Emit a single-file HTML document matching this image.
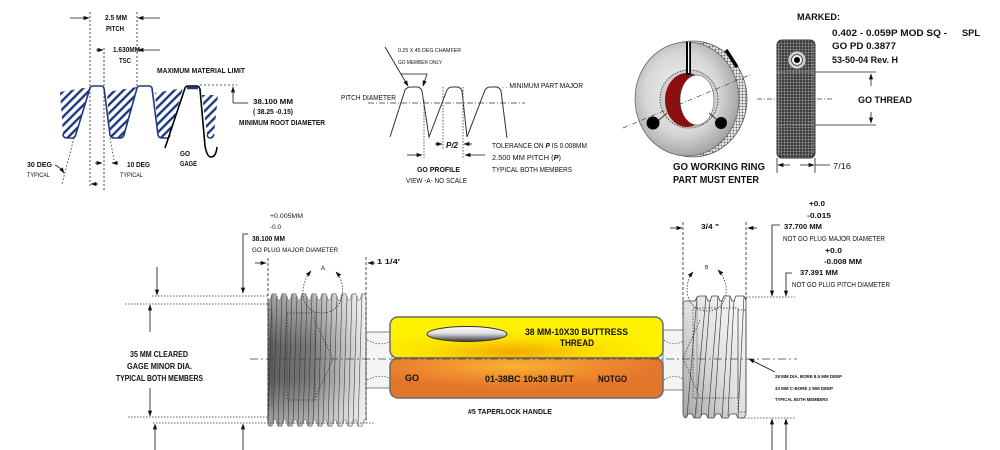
<!DOCTYPE html>
<html><head><meta charset="utf-8"><style>
html,body{margin:0;padding:0;background:#fff;}
svg{display:block;}
text{font-family:"Liberation Sans",Arial,sans-serif;fill:#111;}
.b{font-weight:bold;}
</style></head><body>
<svg width="1000" height="450" viewBox="0 0 1000 450" xmlns="http://www.w3.org/2000/svg">
<defs>
<marker id="a" viewBox="0 0 10 10" refX="9" refY="5" markerWidth="6" markerHeight="6" orient="auto-start-reverse" markerUnits="userSpaceOnUse"><path d="M0,1.5L10,5L0,8.5z" fill="#111"/></marker>
<pattern id="hatch" width="6" height="6" patternUnits="userSpaceOnUse" patternTransform="rotate(-45)"><rect width="6" height="6" fill="#fff"/><rect width="6" height="2.4" fill="#1e3a80"/></pattern>
<pattern id="kn" width="3" height="3" patternUnits="userSpaceOnUse"><rect width="3" height="3" fill="#3a3a3a"/><circle cx="1.5" cy="1.5" r="0.95" fill="#9c9c9c"/></pattern>
<pattern id="kn2" width="3" height="3" patternUnits="userSpaceOnUse"><rect width="3" height="3" fill="#f0f0f0"/><circle cx="1.5" cy="1.5" r="1" fill="#666"/></pattern>
<radialGradient id="face" cx="0.45" cy="0.45" r="0.6"><stop offset="0" stop-color="#f2f2f2"/><stop offset="0.6" stop-color="#d6d6d6"/><stop offset="1" stop-color="#9a9a9a"/></radialGradient>
<linearGradient id="lp" x1="0" y1="0" x2="1" y2="0"><stop offset="0" stop-color="#5e5e5e"/><stop offset="0.45" stop-color="#7a7a7a"/><stop offset="1" stop-color="#eeeeee"/></linearGradient>
<linearGradient id="lpv" x1="0" y1="0" x2="0" y2="1"><stop offset="0" stop-color="#fff" stop-opacity="0.45"/><stop offset="0.4" stop-color="#fff" stop-opacity="0"/><stop offset="0.65" stop-color="#fff" stop-opacity="0"/><stop offset="1" stop-color="#fff" stop-opacity="0.45"/></linearGradient>
<linearGradient id="rp" x1="1" y1="0" x2="0" y2="1"><stop offset="0" stop-color="#fbfbfb"/><stop offset="0.5" stop-color="#e0e0e0"/><stop offset="1" stop-color="#a4a4a4"/></linearGradient>
<radialGradient id="yel" cx="0.45" cy="0.85" r="0.55"><stop offset="0" stop-color="#f4a800"/><stop offset="0.55" stop-color="#fbe000"/><stop offset="1" stop-color="#fff200"/></radialGradient>
<radialGradient id="ora" cx="0.45" cy="0.2" r="0.55"><stop offset="0" stop-color="#f9b233"/><stop offset="0.6" stop-color="#ee8a2e"/><stop offset="1" stop-color="#e4762b"/></radialGradient>
<linearGradient id="slot" x1="0" y1="0" x2="0" y2="1"><stop offset="0" stop-color="#ffffff"/><stop offset="0.45" stop-color="#e0e0e0"/><stop offset="1" stop-color="#3a3a3a"/></linearGradient>
</defs>

<!-- ===== TOP LEFT THREAD PROFILE ===== -->
<g fill="url(#hatch)" stroke="none">
<path d="M60,92 L90,87 L76,134 Q75,138 71,138 L66,138 Q63,138 63,134 Z"/>
<path d="M107,92 L137,87 L124,135 Q123,138 120,138 L114,138 Q111,138 110,135 Z"/>
<path d="M155,93 L183,88 L170,134 Q169,138 166,138 L161,138 Q158,138 158,135 Z"/>
<path d="M202,95 L218,95 L214,134 Q213,138 211,138 L209,138 Q207,138 207,135 Z"/>
</g>
<path d="M63,134 Q63,138 67,138 L72,138 Q75,138 76,134 L90,88 Q91,86 93,86 L101,86 Q103,86 104,88 L110,135 Q111,138 114,138 L120,138 Q123,138 124,135 L137,88 Q138,86 140,86 L149,86 Q151,86 152,88 L158,135 Q159,138 162,138 L167,138 Q169,138 170,135" fill="none" stroke="#1e3a80" stroke-width="1.6"/>
<path d="M207,135 Q208,138 210,138 L211,138 Q213,138 214,134" fill="none" stroke="#1e3a80" stroke-width="1.4"/>
<path d="M187,88 L198,88" stroke="#1e3a80" stroke-width="2.5"/>
<path d="M165,148 L185,88 Q186,86 188,86 L197,86 Q199,86 200,89 L205,146 Q207,157 211,157 Q216,157 217,147" fill="none" stroke="#000" stroke-width="1.6"/>
<g stroke="#222" stroke-width="0.8" stroke-dasharray="2,2" fill="none">
<line x1="90" y1="12" x2="90" y2="188"/>
<line x1="104" y1="48" x2="104" y2="190"/>
<line x1="137" y1="12" x2="137" y2="87"/>
<line x1="200" y1="85" x2="237" y2="85"/>
</g>
<g stroke="#222" stroke-width="0.8" stroke-dasharray="1.5,2" fill="none">
<line x1="74" y1="138" x2="62" y2="184"/>
<line x1="110" y1="138" x2="114" y2="160"/>
</g>
<g stroke="#111" stroke-width="0.8" fill="none">
<line x1="70" y1="18" x2="89" y2="18" marker-end="url(#a)"/>
<line x1="160" y1="18" x2="138" y2="18" marker-end="url(#a)"/>
<line x1="96" y1="50" x2="103" y2="50" marker-end="url(#a)"/>
<line x1="160" y1="50" x2="138" y2="50" marker-end="url(#a)"/>
<line x1="233" y1="103" x2="233" y2="87" marker-end="url(#a)"/>
<line x1="233" y1="103" x2="248" y2="103"/>
<path d="M55,165 Q60,167 64,173" marker-end="url(#a)"/>
<line x1="95" y1="163" x2="102" y2="163" marker-end="url(#a)"/>
<line x1="118" y1="163" x2="112" y2="163" marker-end="url(#a)"/>
<line x1="98" y1="184" x2="91" y2="184" marker-end="url(#a)"/>
</g>
<text class="b" x="105" y="20" font-size="7" textLength="22" lengthAdjust="spacingAndGlyphs">2.5 MM</text>
<text class="b" x="106" y="31" font-size="7" textLength="18" lengthAdjust="spacingAndGlyphs">PITCH</text>
<text class="b" x="113" y="52" font-size="7" textLength="27" lengthAdjust="spacingAndGlyphs">1.630MM</text>
<text class="b" x="119" y="63" font-size="7" textLength="12" lengthAdjust="spacingAndGlyphs">TSC</text>
<text class="b" x="157" y="73" font-size="7" textLength="88" lengthAdjust="spacingAndGlyphs">MAXIMUM MATERIAL LIMIT</text>
<text class="b" x="253" y="104" font-size="7" textLength="40" lengthAdjust="spacingAndGlyphs">38.100 MM</text>
<text class="b" x="253" y="114" font-size="7" textLength="40" lengthAdjust="spacingAndGlyphs">( 38.25 -0.15)</text>
<text class="b" x="239" y="125" font-size="7" textLength="86" lengthAdjust="spacingAndGlyphs">MINIMUM ROOT DIAMETER</text>
<text class="b" x="27" y="167" font-size="7" textLength="25" lengthAdjust="spacingAndGlyphs">30 DEG</text>
<text x="27" y="177" font-size="6.5" textLength="23" lengthAdjust="spacingAndGlyphs">TYPICAL</text>
<text class="b" x="127" y="167" font-size="7" textLength="23" lengthAdjust="spacingAndGlyphs">10 DEG</text>
<text x="120" y="177" font-size="6.5" textLength="23" lengthAdjust="spacingAndGlyphs">TYPICAL</text>
<text class="b" x="180" y="156" font-size="7" textLength="10" lengthAdjust="spacingAndGlyphs">GO</text>
<text class="b" x="180" y="166" font-size="7" textLength="17" lengthAdjust="spacingAndGlyphs">GAGE</text>

<!-- ===== TOP MIDDLE GO PROFILE ===== -->
<path d="M390,137 L405,90 Q407,87 411,87 L418,87 Q421,88 422,91 L429,137 L447,90 Q449,87 452,87 L458,87 Q461,88 462,91 L467,137 L485,90 Q487,87 490,87 L497,87 Q500,88 501,91 L507,138" fill="none" stroke="#333" stroke-width="1"/>
<line x1="368" y1="103" x2="525" y2="103" stroke="#333" stroke-width="0.7" stroke-dasharray="6,2,1,2"/>
<g stroke="#333" stroke-width="0.8" stroke-dasharray="1.5,1.5">
<line x1="424" y1="100" x2="424" y2="158"/>
<line x1="443" y1="87" x2="443" y2="150"/>
<line x1="463" y1="87" x2="463" y2="158"/>
</g>
<g stroke="#111" stroke-width="0.8" fill="none">
<line x1="435" y1="144" x2="442" y2="144" marker-end="url(#a)"/>
<line x1="472" y1="144" x2="464" y2="144" marker-end="url(#a)"/>
<line x1="407" y1="155" x2="422" y2="155" marker-end="url(#a)"/>
<line x1="485" y1="155" x2="465" y2="155" marker-end="url(#a)"/>
<line x1="385" y1="47" x2="408" y2="86" marker-end="url(#a)"/>
<polyline points="401,74 427,74 423,86" marker-end="url(#a)"/>
</g>
<text x="398" y="52" font-size="5.5" textLength="63" lengthAdjust="spacingAndGlyphs">0.25 X 45 DEG CHAMFER</text>
<text x="398" y="64" font-size="5.5" textLength="44" lengthAdjust="spacingAndGlyphs">GO MEMBER ONLY</text>
<text x="341" y="100" font-size="7" textLength="55" lengthAdjust="spacingAndGlyphs">PITCH DIAMETER</text>
<text x="502" y="88" font-size="7" textLength="81" lengthAdjust="spacingAndGlyphs">. . MINIMUM PART MAJOR</text>
<text class="b" x="446" y="148" font-size="8" font-style="italic" textLength="12" lengthAdjust="spacingAndGlyphs">P/2</text>
<text x="492" y="148" font-size="7" textLength="95" lengthAdjust="spacingAndGlyphs">TOLERANCE ON <tspan font-style="italic" font-weight="bold">P</tspan> IS 0.008MM</text>
<text x="492" y="160" font-size="7" textLength="69" lengthAdjust="spacingAndGlyphs">2.500 MM PITCH (<tspan font-style="italic" font-weight="bold">P</tspan>)</text>
<text x="492" y="172" font-size="7" textLength="80" lengthAdjust="spacingAndGlyphs">TYPICAL BOTH MEMBERS</text>
<text class="b" x="417" y="172" font-size="7.5" textLength="43" lengthAdjust="spacingAndGlyphs">GO PROFILE</text>
<text x="406" y="183" font-size="7" textLength="61" lengthAdjust="spacingAndGlyphs">VIEW -A- NO SCALE</text>

<!-- ===== TOP RIGHT RING ===== -->
<ellipse cx="693" cy="99" rx="54" ry="58" fill="url(#kn2)" stroke="#555" stroke-width="0.8"/>
<ellipse cx="687" cy="99" rx="52" ry="57" fill="url(#face)" stroke="#666" stroke-width="0.8"/>
<path d="M726,50 L737,67" stroke="#000" stroke-width="3.5"/>
<circle cx="689" cy="99" r="29" fill="#cfcfcf" stroke="#555" stroke-width="1" stroke-dasharray="1.5,1.2"/>
<ellipse cx="687" cy="100" rx="22" ry="27" fill="#8b0f0f"/>
<ellipse cx="697" cy="100" rx="17" ry="25" fill="#fff" stroke="#444" stroke-width="0.5"/>
<rect x="686" y="42" width="5" height="33" fill="#000"/>
<rect x="688" y="42" width="1.2" height="31" fill="#fff"/>
<line x1="659" y1="120" x2="667" y2="113" stroke="#333" stroke-width="1"/>
<line x1="716" y1="119" x2="709" y2="113" stroke="#333" stroke-width="1"/>
<circle cx="653" cy="123" r="6.5" fill="#000"/>
<circle cx="721" cy="123" r="6" fill="#000"/>
<line x1="623" y1="128" x2="752" y2="74" stroke="#444" stroke-width="0.7" stroke-dasharray="5,2,1,2"/>
<line x1="757" y1="99" x2="833" y2="99" stroke="#444" stroke-width="0.7" stroke-dasharray="5,2,1,2"/>
<rect x="777" y="40" width="38" height="118" rx="5" fill="url(#kn)" stroke="#333" stroke-width="1"/>
<line x1="779" y1="44" x2="779" y2="154" stroke="#bbb" stroke-width="0.8" stroke-dasharray="1,1"/>
<line x1="813" y1="44" x2="813" y2="154" stroke="#bbb" stroke-width="0.8" stroke-dasharray="1,1"/>
<circle cx="797" cy="60" r="9" fill="#cfcfcf" stroke="#555" stroke-width="0.8"/>
<circle cx="797" cy="60" r="5.5" fill="#eee" stroke="#333" stroke-width="0.8"/>
<circle cx="797" cy="60" r="3" fill="#000"/>
<g stroke="#222" stroke-width="0.8">
<line x1="777" y1="72" x2="815" y2="72" stroke-dasharray="1.5,1.5" stroke="#ccc"/>
<line x1="777" y1="125" x2="815" y2="125" stroke-dasharray="1.5,1.5" stroke="#ccc"/>
<line x1="815" y1="72" x2="876" y2="72"/>
<line x1="815" y1="125" x2="876" y2="125"/>
<line x1="871" y1="86" x2="871" y2="74" marker-end="url(#a)"/>
<line x1="871" y1="112" x2="871" y2="123" marker-end="url(#a)"/>
<line x1="777" y1="158" x2="777" y2="173"/>
<line x1="815" y1="158" x2="815" y2="173"/>
<line x1="790" y1="165" x2="778" y2="165" marker-end="url(#a)"/>
<line x1="800" y1="165" x2="814" y2="165" marker-end="url(#a)"/>
<line x1="815" y1="165" x2="830" y2="165"/>
</g>
<text class="b" x="797" y="20" font-size="9.5" textLength="43" lengthAdjust="spacingAndGlyphs">MARKED:</text>
<text class="b" x="832" y="36" font-size="9.5" textLength="115" lengthAdjust="spacingAndGlyphs">0.402 - 0.059P MOD SQ -</text>
<text class="b" x="962" y="36" font-size="9.5" textLength="18" lengthAdjust="spacingAndGlyphs">SPL</text>
<text class="b" x="832" y="49" font-size="9.5" textLength="64" lengthAdjust="spacingAndGlyphs">GO PD 0.3877</text>
<text class="b" x="832" y="63" font-size="9.5" textLength="66" lengthAdjust="spacingAndGlyphs">53-50-04 Rev. H</text>
<text class="b" x="858" y="103" font-size="9.5" textLength="54" lengthAdjust="spacingAndGlyphs">GO THREAD</text>
<text x="833" y="169" font-size="8.5" textLength="18" lengthAdjust="spacingAndGlyphs">7/16</text>
<text class="b" x="673" y="170" font-size="10" textLength="92" lengthAdjust="spacingAndGlyphs">GO WORKING RING</text>
<text class="b" x="673" y="183" font-size="10" textLength="86" lengthAdjust="spacingAndGlyphs">PART MUST ENTER</text>

<!-- ===== BOTTOM: LEFT PLUG ===== -->
<rect x="366" y="332" width="26" height="56" fill="#f4f4f4" stroke="#666" stroke-width="0.8"/>
<path d="M367,340 Q380,347 391,341 M367,380 Q380,373 391,379" fill="none" stroke="#555" stroke-width="0.8" stroke-dasharray="1.5,1.5"/>
<path d="M268,420 L268,300 L270,300 L272,294 L276,294 L278,300 L280,300 L282,294 L286,294 L288,300 L290,300 L292,294 L296,294 L298,300 L300,300 L302,294 L306,294 L308,300 L310,300 L312,294 L316,294 L318,300 L320,300 L322,294 L326,294 L328,300 L330,300 L332,294 L336,294 L338,300 L340,300 L342,294 L346,294 L348,300 L350,300 L352,294 L356,294 L358,300 L360,300 L362,294 L365,294 L366,300 L366,420 L364,420 L362,426 L358,426 L356,420 L354,420 L352,426 L348,426 L346,420 L344,420 L342,426 L338,426 L336,420 L334,420 L332,426 L328,426 L326,420 L324,420 L322,426 L318,426 L316,420 L314,420 L312,426 L308,426 L306,420 L304,420 L302,426 L298,426 L296,420 L294,420 L292,426 L288,426 L286,420 L284,420 L282,426 L278,426 L276,420 L274,420 L272,426 L269,426 L268,420 Z" fill="url(#lp)" stroke="#444" stroke-width="0.8"/>
<rect x="268" y="294" width="98" height="132" fill="url(#lpv)"/>
<g stroke="#2e2e2e" stroke-width="0.6" opacity="0.85">
<line x1="272" y1="294" x2="268" y2="426"/><line x1="277" y1="296" x2="273" y2="424"/>
<line x1="282" y1="294" x2="278" y2="426"/><line x1="287" y1="296" x2="283" y2="424"/>
<line x1="292" y1="294" x2="288" y2="426"/><line x1="297" y1="296" x2="293" y2="424"/>
<line x1="302" y1="294" x2="298" y2="426"/><line x1="307" y1="296" x2="303" y2="424"/>
<line x1="312" y1="294" x2="308" y2="426"/><line x1="317" y1="296" x2="313" y2="424"/>
<line x1="322" y1="294" x2="318" y2="426"/><line x1="327" y1="296" x2="323" y2="424"/>
<line x1="332" y1="294" x2="328" y2="426"/><line x1="337" y1="296" x2="333" y2="424"/>
<line x1="342" y1="294" x2="338" y2="426"/><line x1="347" y1="296" x2="343" y2="424"/>
<line x1="352" y1="294" x2="348" y2="426"/><line x1="357" y1="296" x2="353" y2="424"/>
<line x1="362" y1="294" x2="358" y2="426"/>
</g>
<g fill="none" stroke="#333" stroke-width="0.7" stroke-dasharray="1.5,1.5">
<rect x="287" y="313" width="28" height="87"/>
<polyline points="313,317 333,359 315,398"/>
<rect x="268" y="310" width="4" height="96"/>
</g>
<path d="M336,272 C348,285 344,313 322,313 C300,313 298,286 311,271" fill="none" stroke="#333" stroke-width="0.8" stroke-dasharray="1.5,1.5" marker-start="url(#a)" marker-end="url(#a)"/>

<!-- ===== BOTTOM: RIGHT PLUG ===== -->
<rect x="663" y="330" width="21" height="60" fill="#f4f4f4" stroke="#666" stroke-width="0.8"/>
<path d="M664,340 Q674,347 683,341 M664,380 Q674,373 683,379" fill="none" stroke="#555" stroke-width="0.8" stroke-dasharray="1.5,1.5"/>
<path d="M683,414 L683,301 L695,301 L697,297 L699,296 L706,296 L708,301 L710,301 L712,296 L718,296 L720,301 L722,301 L724,296 L730,296 L732,301 L734,301 L736,296 L744,296 L746,300 L746,414 L744,418 L738,418 L736,414 L730,414 L728,418 L722,418 L720,414 L716,414 L714,418 L708,418 L706,414 L702,414 L700,418 L694,418 L692,414 L688,414 L686,418 L684,417 Z" fill="url(#rp)" stroke="#444" stroke-width="0.8"/>
<g stroke="#444" stroke-width="0.7">
<line x1="697" y1="297" x2="687" y2="417"/><line x1="706" y1="296" x2="695" y2="418"/>
<line x1="710" y1="300" x2="701" y2="416"/><line x1="718" y1="296" x2="708" y2="418"/>
<line x1="722" y1="300" x2="714" y2="416"/><line x1="730" y1="296" x2="722" y2="418"/>
<line x1="734" y1="300" x2="728" y2="416"/><line x1="744" y1="296" x2="738" y2="418"/>
<line x1="697" y1="301" x2="697" y2="414" stroke="#888"/>
</g>
<g fill="none" stroke="#333" stroke-width="0.7" stroke-dasharray="1.5,1.5">
<rect x="693" y="308" width="45" height="90"/>
<polyline points="700,320 683,358 700,398"/>
<rect x="738" y="310" width="8" height="102"/>
</g>
<path d="M718,270 C732,284 728,311 707,311 C686,311 682,285 693,272" fill="none" stroke="#333" stroke-width="0.8" stroke-dasharray="1.5,1.5" marker-start="url(#a)" marker-end="url(#a)"/>

<!-- ===== HANDLE ===== -->
<rect x="390" y="317" width="273" height="41" rx="8" fill="url(#yel)" stroke="#6a6a6a" stroke-width="1.5"/>
<rect x="390" y="358" width="273" height="40" rx="8" fill="url(#ora)" stroke="#6a6a6a" stroke-width="1.5"/>
<ellipse cx="467" cy="334" rx="40" ry="7.5" fill="url(#slot)" stroke="#333" stroke-width="1"/>
<line x1="250" y1="359" x2="797" y2="359" stroke="#444" stroke-width="0.8" stroke-dasharray="8,3,2,3"/>
<text class="b" x="525" y="335" font-size="9.5" textLength="103" lengthAdjust="spacingAndGlyphs">38 MM-10X30 BUTTRESS</text>
<text class="b" x="560" y="346" font-size="9.5" textLength="34" lengthAdjust="spacingAndGlyphs">THREAD</text>
<text class="b" x="405" y="381" font-size="9" textLength="14" lengthAdjust="spacingAndGlyphs">GO</text>
<text class="b" x="485" y="382" font-size="9.5" textLength="89" lengthAdjust="spacingAndGlyphs">01-38BC 10x30 BUTT</text>
<text class="b" x="598" y="382" font-size="9" textLength="29" lengthAdjust="spacingAndGlyphs">NOTGO</text>
<text class="b" x="468" y="414" font-size="7" textLength="84" lengthAdjust="spacingAndGlyphs">#5 TAPERLOCK HANDLE</text>

<!-- ===== BOTTOM DIMENSIONS ===== -->
<g stroke="#222" stroke-width="0.8" stroke-dasharray="3,2" fill="none">
<line x1="268" y1="258" x2="268" y2="423"/>
<line x1="366" y1="257" x2="366" y2="423"/>
<line x1="683" y1="222" x2="683" y2="318"/>
<line x1="746" y1="222" x2="746" y2="300"/>
</g>
<g stroke="#333" stroke-width="0.8" stroke-dasharray="1.5,1.5" fill="none">
<line x1="152" y1="296" x2="268" y2="296"/>
<line x1="125" y1="304" x2="268" y2="304"/>
<line x1="128" y1="417" x2="268" y2="417"/>
<line x1="153" y1="423" x2="375" y2="423"/>
<line x1="746" y1="297" x2="795" y2="297"/>
<line x1="742" y1="418" x2="795" y2="418"/>
</g>
<g stroke="#111" stroke-width="0.8" fill="none">
<polyline points="248,234 243,234 243,293" marker-end="url(#a)"/>
<line x1="255" y1="263" x2="266" y2="263" marker-end="url(#a)"/>
<line x1="375" y1="263" x2="368" y2="263" marker-end="url(#a)"/>
<line x1="157" y1="267" x2="157" y2="295" marker-end="url(#a)"/>
<line x1="150" y1="332" x2="150" y2="305" marker-end="url(#a)"/>
<line x1="150" y1="388" x2="150" y2="416" marker-end="url(#a)"/>
<line x1="155" y1="450" x2="155" y2="424" marker-end="url(#a)"/>
<line x1="243" y1="450" x2="243" y2="424" marker-end="url(#a)"/>
<line x1="670" y1="228" x2="682" y2="228" marker-end="url(#a)"/>
<line x1="757" y1="228" x2="748" y2="228" marker-end="url(#a)"/>
<polyline points="780,225 772,225 772,296" marker-end="url(#a)"/>
<polyline points="792,273 786,273 786,296" marker-end="url(#a)"/>
<line x1="772" y1="450" x2="772" y2="419" marker-end="url(#a)"/>
<line x1="786" y1="450" x2="786" y2="419" marker-end="url(#a)"/>
<line x1="775" y1="372" x2="749" y2="359" marker-end="url(#a)"/>
</g>
<text x="270" y="218" font-size="6" textLength="33" lengthAdjust="spacingAndGlyphs">+0.005MM</text>
<text x="270" y="229" font-size="6" textLength="11" lengthAdjust="spacingAndGlyphs">-0.0</text>
<text class="b" x="252" y="241" font-size="7" textLength="33" lengthAdjust="spacingAndGlyphs">38.100 MM</text>
<text x="252" y="252" font-size="6.5" textLength="86" lengthAdjust="spacingAndGlyphs">GO PLUG MAJOR DIAMETER</text>
<text class="b" x="377" y="264" font-size="7" textLength="23" lengthAdjust="spacingAndGlyphs">1  1/4'</text>
<text x="321" y="270" font-size="6">A</text>
<text class="b" x="130" y="357" font-size="8" textLength="58" lengthAdjust="spacingAndGlyphs">35 MM CLEARED</text>
<text class="b" x="127" y="369" font-size="8" textLength="65" lengthAdjust="spacingAndGlyphs">GAGE MINOR DIA.</text>
<text class="b" x="116" y="381" font-size="8" textLength="87" lengthAdjust="spacingAndGlyphs">TYPICAL BOTH MEMBERS</text>

<text class="b" x="809" y="206" font-size="7" textLength="16" lengthAdjust="spacingAndGlyphs">+0.0</text>
<text class="b" x="807" y="218" font-size="7" textLength="24" lengthAdjust="spacingAndGlyphs">-0.015</text>
<text class="b" x="784" y="229" font-size="7" textLength="38" lengthAdjust="spacingAndGlyphs">37.700 MM</text>
<text x="783" y="241" font-size="7" textLength="102" lengthAdjust="spacingAndGlyphs">NOT GO PLUG MAJOR DIAMETER</text>
<text class="b" x="825" y="253" font-size="7" textLength="17" lengthAdjust="spacingAndGlyphs">+0.0</text>
<text class="b" x="824" y="264" font-size="7" textLength="38" lengthAdjust="spacingAndGlyphs">-0.008 MM</text>
<text class="b" x="800" y="275" font-size="7" textLength="38" lengthAdjust="spacingAndGlyphs">37.391 MM</text>
<text x="792" y="287" font-size="7" textLength="98" lengthAdjust="spacingAndGlyphs">NOT GO PLUG PITCH DIAMETER</text>
<text class="b" x="701" y="229" font-size="7" textLength="18" lengthAdjust="spacingAndGlyphs">3/4 "</text>
<text x="705" y="269" font-size="5">B</text>
<text class="b" x="775" y="378" font-size="4.5" textLength="67" lengthAdjust="spacingAndGlyphs">28 MM DIA. BORE 8.5 MM DEEP</text>
<text class="b" x="775" y="390" font-size="4.5" textLength="58" lengthAdjust="spacingAndGlyphs">33 MM C-BORE 2 MM DEEP</text>
<text class="b" x="775" y="401" font-size="4.5" textLength="53" lengthAdjust="spacingAndGlyphs">TYPICAL BOTH MEMBERS</text>
</svg>
</body></html>
